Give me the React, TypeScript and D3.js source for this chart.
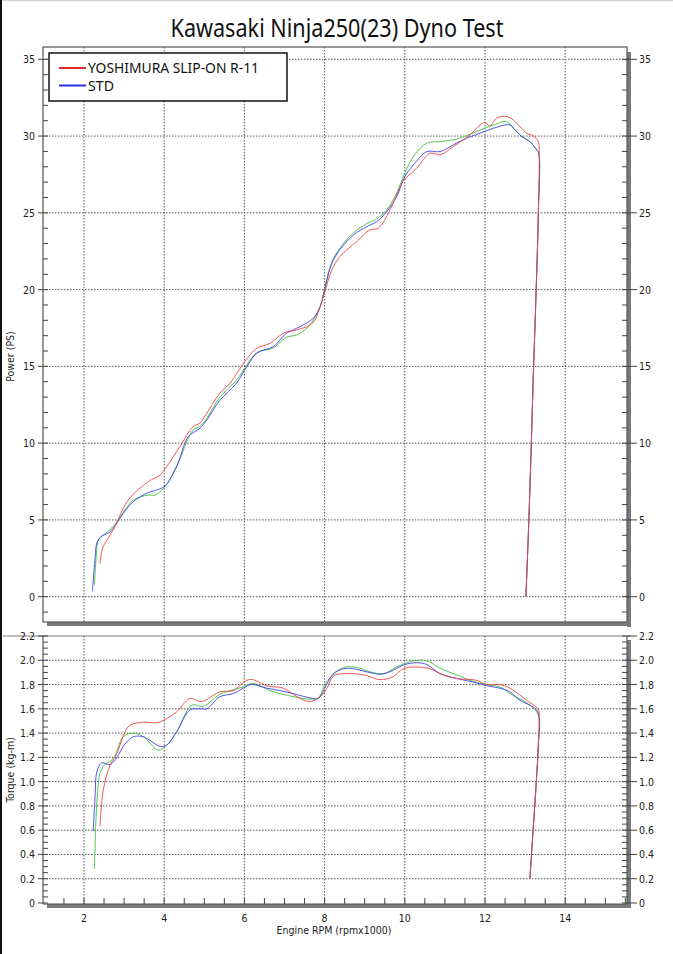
import * as d3 from "d3";

type Pt = [number, number];

const title = "Kawasaki Ninja250(23) Dyno Test";
const legendNames = ["YOSHIMURA SLIP-ON R-11", "STD"];
const rpmTicks = [2, 4, 6, 8, 10, 12, 14];
const powerTicks = [0, 5, 10, 15, 20, 25, 30, 35];
const torqueTicks = [0, 0.2, 0.4, 0.6, 0.8, 1.0, 1.2, 1.4, 1.6, 1.8, 2.0, 2.2];

// rpm x1000, PS
const powerYoshimura: Pt[] = [
  [2.4, 2.17], [2.44, 2.9], [2.48, 3.26], [2.6, 3.8], [2.77, 4.56], [3.1, 6.3], [3.6, 7.49],
  [3.9, 7.93], [4.06, 8.47], [4.39, 9.77], [4.72, 11.07], [4.89, 11.3], [5.0, 11.7], [5.39, 13.25],
  [5.64, 13.9], [6.01, 15.31], [6.31, 16.18], [6.64, 16.5], [6.97, 17.16], [7.3, 17.37], [7.64, 17.7],
  [7.76, 18.03], [7.97, 19.54], [8.18, 21.28], [8.38, 22.15], [8.8, 23.13], [9.13, 23.89], [9.34, 24.0],
  [9.63, 25.19], [9.96, 27.04], [10.29, 27.9], [10.63, 28.88], [10.88, 28.78], [11.21, 29.32],
  [11.63, 30.09], [11.88, 30.73], [12.0, 30.9], [12.12, 30.66], [12.29, 31.17], [12.54, 31.27],
  [12.7, 31.06], [12.87, 30.62], [13.04, 30.19], [13.2, 30.03], [13.33, 29.64], [13.35, 29.1],
  [13.33, 25], [13.27, 19.5], [13.2, 14], [13.15, 9.5], [13.08, 4], [13.02, 0],
];
const powerStd: Pt[] = [
  [2.21, 0.33], [2.28, 2.6], [2.32, 3.5], [2.44, 3.95], [2.6, 4.13], [2.77, 4.6], [2.98, 5.43],
  [3.23, 6.19], [3.6, 6.78], [3.81, 6.95], [4.02, 7.21], [4.31, 8.47], [4.6, 10.42], [4.89, 10.97],
  [5.06, 11.5], [5.39, 12.8], [5.8, 13.9], [6.06, 14.98], [6.31, 15.86], [6.72, 16.29], [7.05, 17.16],
  [7.39, 17.59], [7.72, 18.14], [7.89, 18.9], [8.01, 20.09], [8.18, 21.72], [8.38, 22.59], [8.72, 23.56],
  [9.05, 24.1], [9.3, 24.43], [9.55, 25.08], [9.8, 26.06], [10.0, 27.36], [10.25, 28.23], [10.55, 28.99],
  [10.88, 28.99], [11.21, 29.43], [11.54, 29.86], [11.88, 30.19], [12.21, 30.51], [12.62, 30.73],
  [12.75, 30.4], [12.91, 29.97], [13.12, 29.64], [13.29, 29.1], [13.34, 28.9],
  [13.33, 25], [13.27, 19.5], [13.2, 14], [13.15, 9.5], [13.08, 4], [13.02, 0],
];
const powerRun3: Pt[] = [
  [2.26, 0.76], [2.31, 2.8], [2.36, 3.7], [2.48, 4.0], [2.6, 4.25], [2.77, 4.7], [2.98, 5.5],
  [3.23, 6.3], [3.6, 6.62], [3.77, 6.62], [4.0, 7.1], [4.31, 8.5], [4.72, 10.86], [4.89, 11.1],
  [5.06, 11.6], [5.39, 13.0], [5.8, 14.1], [6.06, 15.1], [6.31, 15.9], [6.72, 16.2], [7.05, 16.9],
  [7.3, 17.05], [7.6, 17.6], [7.89, 18.9], [8.01, 20.2], [8.18, 21.8], [8.38, 22.7], [8.72, 23.7],
  [9.05, 24.3], [9.3, 24.6], [9.55, 25.2], [9.8, 26.3], [10.0, 27.6], [10.25, 28.8], [10.55, 29.54],
  [10.88, 29.64], [11.29, 29.8], [11.7, 30.2], [12.21, 30.73], [12.54, 30.94], [12.71, 30.5],
  [12.91, 30.0], [13.12, 29.64], [13.29, 29.1], [13.34, 28.9],
  [13.33, 25], [13.27, 19.5], [13.2, 14], [13.15, 9.5], [13.08, 4], [13.02, 0],
];

// rpm x1000, kg-m
const torqueYoshimura: Pt[] = [
  [2.4, 0.63], [2.48, 0.93], [2.65, 1.135], [2.82, 1.23], [3.02, 1.41], [3.15, 1.465], [3.48, 1.49],
  [3.81, 1.485], [3.98, 1.505], [4.31, 1.575], [4.64, 1.685], [4.93, 1.66], [5.39, 1.74], [5.72, 1.75],
  [6.06, 1.835], [6.22, 1.84], [6.56, 1.79], [6.97, 1.77], [7.39, 1.685], [7.64, 1.66], [7.89, 1.7],
  [8.05, 1.765], [8.22, 1.87], [8.47, 1.89], [8.88, 1.885], [9.13, 1.865], [9.38, 1.84], [9.71, 1.865],
  [9.96, 1.93], [10.29, 1.945], [10.63, 1.93], [10.88, 1.89], [11.29, 1.85], [11.79, 1.835],
  [12.04, 1.8], [12.37, 1.8], [12.62, 1.77], [13.04, 1.67], [13.33, 1.595], [13.35, 1.53],
  [13.33, 1.3], [13.28, 1.0], [13.22, 0.7], [13.17, 0.45], [13.12, 0.2],
];
const torqueStd: Pt[] = [
  [2.23, 0.59], [2.28, 0.9], [2.32, 1.08], [2.44, 1.155], [2.65, 1.14], [2.82, 1.2], [3.02, 1.31],
  [3.23, 1.37], [3.48, 1.37], [3.69, 1.33], [3.9, 1.29], [4.06, 1.3], [4.31, 1.41], [4.64, 1.59],
  [4.89, 1.6], [5.06, 1.6], [5.39, 1.7], [5.72, 1.725], [5.97, 1.77], [6.18, 1.8], [6.56, 1.77],
  [6.89, 1.75], [7.22, 1.725], [7.64, 1.69], [7.84, 1.685], [8.05, 1.8], [8.22, 1.89], [8.47, 1.93],
  [8.72, 1.93], [9.05, 1.905], [9.38, 1.885], [9.63, 1.905], [9.96, 1.96], [10.29, 1.98],
  [10.55, 1.965], [10.88, 1.89], [11.29, 1.85], [11.71, 1.82], [12.04, 1.79], [12.37, 1.77],
  [12.62, 1.74], [12.87, 1.67], [13.12, 1.63], [13.29, 1.59], [13.35, 1.53],
  [13.33, 1.3], [13.28, 1.0], [13.22, 0.7], [13.17, 0.45], [13.12, 0.2],
];
const torqueRun3: Pt[] = [
  [2.26, 0.28], [2.3, 0.7], [2.35, 0.95], [2.4, 1.07], [2.52, 1.14], [2.73, 1.19], [2.98, 1.37],
  [3.23, 1.4], [3.48, 1.37], [3.85, 1.26], [4.06, 1.3], [4.31, 1.41], [4.69, 1.63], [4.98, 1.62],
  [5.39, 1.72], [5.97, 1.78], [6.22, 1.81], [6.64, 1.75], [7.22, 1.7], [7.64, 1.68], [7.84, 1.69],
  [8.05, 1.82], [8.47, 1.94], [8.8, 1.94], [9.13, 1.905], [9.47, 1.89], [9.8, 1.945], [10.21, 1.995],
  [10.55, 1.995], [10.88, 1.935], [11.29, 1.88], [11.71, 1.825], [12.04, 1.8], [12.37, 1.78],
  [12.7, 1.71], [13.04, 1.65], [13.33, 1.55],
  [13.33, 1.3], [13.28, 1.0], [13.22, 0.7], [13.17, 0.45], [13.12, 0.2],
];

const series = [
  { color: "#3cbf3c", power: powerRun3, torque: torqueRun3 },
  { color: "#4040ee", power: powerStd, torque: torqueStd },
  { color: "#ee4444", power: powerYoshimura, torque: torqueYoshimura },
];
const legendColors = ["#e02828", "#2a2ae8"];

const W = 673;
const H = 954;
const left = 43;
const right = 627;
const pTop = 47;
const pBottom = 622;
const tTop = 636;
const tBottom = 904;

const font = "'DejaVu Sans Condensed', 'DejaVu Sans', sans-serif";
const grid = "#555";

const App = () => {
  const x = d3.scaleLinear().domain([2, 14]).range([84, 565.2]);
  const yP = d3.scaleLinear().domain([0, 35]).range([596.7, 59.3]);
  const yT = d3.scaleLinear().domain([0, 2.2]).range([903, 636]);

  const lineP = d3.line<Pt>().x((d) => x(d[0])).y((d) => yP(d[1])).curve(d3.curveCatmullRom.alpha(0.5));
  const lineT = d3.line<Pt>().x((d) => x(d[0])).y((d) => yT(d[1])).curve(d3.curveCatmullRom.alpha(0.5));

  const powerMinor = d3.range(-1, 36, 1);
  const torqueMinor = d3.range(0, 2.2001, 0.05);
  const rpmMinor = d3.range(1.5, 15.6, 0.5);
  const fmtT = (v: number) => (v === 0 ? "0" : d3.format(".1f")(v));

  return (
    <svg width={W} height={H} style={{ position: "absolute", left: 0, top: 0, background: "#fff" }}>
      <rect x={0} y={0} width={W} height={H} fill="#fff" />
      <line x1={0} x2={W} y1={0.5} y2={0.5} stroke="#d6d6d6" strokeWidth={1.5} />
      <rect x={0} y={0} width={2} height={H} fill="#111" />

      <text x={337} y={37} textAnchor="middle" fontFamily="'Noto Sans', sans-serif" fontSize={25}
        textLength={333} lengthAdjust="spacingAndGlyphs" fill="#111">
        {title}
      </text>

      {/* power panel */}
      <rect x={right} y={pTop + 5} width={4} height={pBottom - pTop} fill="#7a7a7a" />
      <rect x={left + 4} y={pBottom} width={right - left} height={4} fill="#7a7a7a" />
      {rpmTicks.map((t) => (
        <line key={"pgx" + t} x1={x(t)} x2={x(t)} y1={pTop} y2={pBottom} stroke={grid} strokeDasharray="1.5,1.5" />
      ))}
      {powerTicks.map((t) => (
        <line key={"pgy" + t} x1={left} x2={right} y1={yP(t)} y2={yP(t)} stroke={grid} strokeDasharray="1.5,1.5" />
      ))}
      <rect x={left} y={pTop} width={right - left} height={pBottom - pTop} fill="none" stroke="#555" strokeWidth={1.2} />
      {powerMinor.map((t) => (
        <g key={"pm" + t}>
          <line x1={left} x2={left + 5} y1={yP(t)} y2={yP(t)} stroke="#444" />
          <line x1={right - 5} x2={right} y1={yP(t)} y2={yP(t)} stroke="#444" />
        </g>
      ))}
      {powerTicks.map((t) => (
        <g key={"pt" + t} fontFamily={font} fontSize={10.5} fill="#222">
          <line x1={left - 5} x2={left} y1={yP(t)} y2={yP(t)} stroke="#444" />
          <line x1={right} x2={right + 10} y1={yP(t)} y2={yP(t)} stroke="#444" />
          <text x={left - 8} y={yP(t) + 4} textAnchor="end">{t}</text>
          <text x={right + 12} y={yP(t) + 4}>{t}</text>
        </g>
      ))}
      <text transform={`translate(14,${(pTop + pBottom) / 2 + 22}) rotate(-90)`} textAnchor="middle"
        fontFamily={font} fontSize={10.5} fill="#222">Power (PS)</text>

      {series.map((s, i) => (
        <path key={"p" + i} d={lineP(s.power) || ""} fill="none" stroke={s.color} strokeWidth={0.9} />
      ))}

      {/* legend */}
      <rect x={49} y={53} width={238} height={48} fill="#fff" stroke="#111" strokeWidth={1.5} />
      {legendNames.map((n, i) => (
        <g key={n}>
          <line x1={59} x2={86} y1={68 + i * 17.5} y2={68 + i * 17.5} stroke={legendColors[i]} strokeWidth={2} />
          <text x={88} y={73 + i * 17.5} fontFamily="'Noto Sans', sans-serif" fontSize={14} fill="#111"
            textLength={i === 0 ? 171 : 26} lengthAdjust="spacingAndGlyphs">{n}</text>
        </g>
      ))}

      {/* torque panel */}
      <line x1={3} x2={631} y1={tTop} y2={tTop} stroke="#bdbdbd" strokeWidth={2} />
      <rect x={right} y={tTop + 4} width={4} height={tBottom - tTop} fill="#7a7a7a" />
      <rect x={left + 4} y={tBottom} width={right - left} height={4} fill="#7a7a7a" />
      {rpmTicks.map((t) => (
        <line key={"tgx" + t} x1={x(t)} x2={x(t)} y1={tTop} y2={tBottom} stroke={grid} strokeDasharray="1.5,1.5" />
      ))}
      {torqueTicks.filter((t) => t > 0 && t < 2.2).map((t) => (
        <line key={"tgy" + t} x1={left} x2={right} y1={yT(t)} y2={yT(t)} stroke={grid} strokeDasharray="1.5,1.5" />
      ))}
      <line x1={left} x2={left} y1={tTop} y2={tBottom} stroke="#555" strokeWidth={1.2} />
      <line x1={right} x2={right} y1={tTop} y2={tBottom} stroke="#555" strokeWidth={1.2} />
      <line x1={left} x2={right} y1={tBottom} y2={tBottom} stroke="#555" strokeWidth={1.2} />
      {torqueMinor.map((t) => (
        <g key={"tm" + t}>
          <line x1={left} x2={left + 5} y1={yT(t)} y2={yT(t)} stroke="#444" />
          <line x1={right - 5} x2={right} y1={yT(t)} y2={yT(t)} stroke="#444" />
        </g>
      ))}
      {torqueTicks.map((t) => (
        <g key={"tt" + t} fontFamily={font} fontSize={10.5} fill="#222">
          <line x1={left - 5} x2={left} y1={yT(t)} y2={yT(t)} stroke="#444" />
          <line x1={right} x2={right + 10} y1={yT(t)} y2={yT(t)} stroke="#444" />
          <text x={left - 8} y={yT(t) + 4} textAnchor="end">{fmtT(t)}</text>
          <text x={right + 12} y={yT(t) + 4}>{fmtT(t)}</text>
        </g>
      ))}
      {rpmMinor.map((t) => (
        <line key={"xm" + t} x1={x(t)} x2={x(t)} y1={tBottom - 6} y2={tBottom} stroke="#444" />
      ))}
      {rpmTicks.map((t) => (
        <text key={"xl" + t} x={x(t)} y={tBottom + 18} textAnchor="middle" fontFamily={font} fontSize={10.5} fill="#222">{t}</text>
      ))}
      <text transform={`translate(14,${(tTop + tBottom) / 2}) rotate(-90)`} textAnchor="middle"
        fontFamily={font} fontSize={10.5} fill="#222">Torque (kg-m)</text>
      <text x={334} y={tBottom + 30} textAnchor="middle" fontFamily={font} fontSize={10.5} fill="#222">
        Engine RPM (rpmx1000)
      </text>

      {series.map((s, i) => (
        <path key={"t" + i} d={lineT(s.torque) || ""} fill="none" stroke={s.color} strokeWidth={0.9} />
      ))}
    </svg>
  );
};

export default App;
